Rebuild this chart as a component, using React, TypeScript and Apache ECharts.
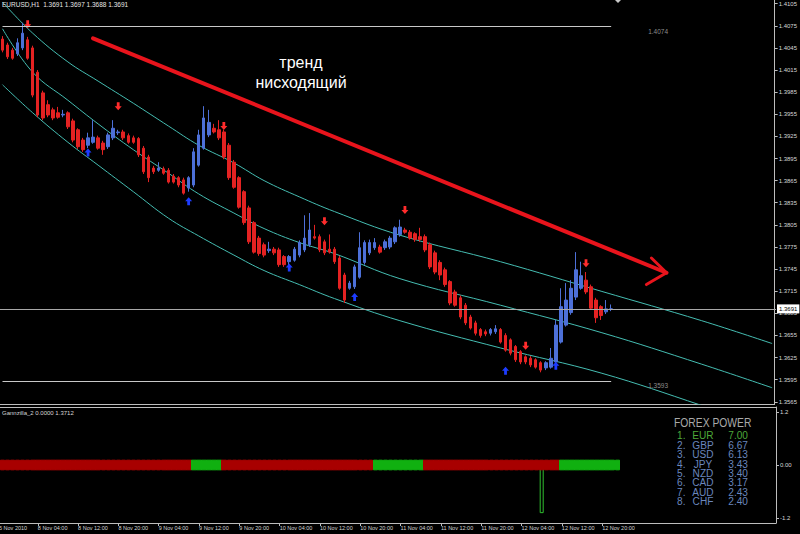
import React, { useEffect, useRef } from 'react';
import * as echarts from 'echarts';

const SYMBOL = 'EURUSD,H1';
const BAR_COUNT = 154;

// [open, close, low, high] hourly candles
const candles: number[][] = [
  [1.4057, 1.4042, 1.4039, 1.4061], [1.4049, 1.4033, 1.4030, 1.4052], [1.4042, 1.4031, 1.4029, 1.4045],
  [1.4037, 1.4052, 1.4034, 1.4058], [1.4045, 1.4065, 1.4042, 1.4079], [1.4056, 1.4031, 1.4029, 1.4060],
  [1.4045, 1.3981, 1.3978, 1.4048], [1.4012, 1.3954, 1.3951, 1.4015], [1.3984, 1.3950, 1.3947, 1.3987],
  [1.3968, 1.3954, 1.3951, 1.3974], [1.3961, 1.3950, 1.3947, 1.3964], [1.3957, 1.3951, 1.3949, 1.3965],
  [1.3954, 1.3955, 1.3951, 1.3961], [1.3957, 1.3938, 1.3935, 1.3959], [1.3946, 1.3920, 1.3917, 1.3949],
  [1.3934, 1.3911, 1.3908, 1.3936], [1.3920, 1.3907, 1.3904, 1.3923], [1.3913, 1.3923, 1.3909, 1.3930],
  [1.3917, 1.3924, 1.3915, 1.3947], [1.3923, 1.3909, 1.3907, 1.3926], [1.3916, 1.3907, 1.3900, 1.3919],
  [1.3911, 1.3927, 1.3908, 1.3930], [1.3923, 1.3936, 1.3920, 1.3947], [1.3930, 1.3931, 1.3927, 1.3934],
  [1.3931, 1.3923, 1.3920, 1.3934], [1.3926, 1.3917, 1.3915, 1.3929], [1.3923, 1.3917, 1.3915, 1.3926],
  [1.3922, 1.3900, 1.3897, 1.3924], [1.3909, 1.3877, 1.3874, 1.3912], [1.3897, 1.3869, 1.3863, 1.3900],
  [1.3882, 1.3877, 1.3874, 1.3885], [1.3879, 1.3882, 1.3877, 1.3890], [1.3881, 1.3875, 1.3873, 1.3884],
  [1.3879, 1.3863, 1.3861, 1.3882], [1.3871, 1.3863, 1.3861, 1.3874], [1.3869, 1.3859, 1.3856, 1.3871],
  [1.3866, 1.3848, 1.3846, 1.3869], [1.3855, 1.3869, 1.3850, 1.3871], [1.3859, 1.3904, 1.3856, 1.3909],
  [1.3886, 1.3927, 1.3884, 1.3934], [1.3909, 1.3950, 1.3907, 1.3966], [1.3927, 1.3944, 1.3924, 1.3961],
  [1.3936, 1.3931, 1.3929, 1.3942], [1.3934, 1.3923, 1.3920, 1.3947], [1.3931, 1.3897, 1.3894, 1.3934],
  [1.3913, 1.3869, 1.3866, 1.3916], [1.3890, 1.3856, 1.3854, 1.3893], [1.3869, 1.3829, 1.3827, 1.3871],
  [1.3850, 1.3808, 1.3805, 1.3852], [1.3828, 1.3782, 1.3779, 1.3831], [1.3808, 1.3768, 1.3766, 1.3810],
  [1.3787, 1.3766, 1.3763, 1.3790], [1.3778, 1.3764, 1.3761, 1.3781], [1.3770, 1.3772, 1.3767, 1.3782],
  [1.3772, 1.3767, 1.3764, 1.3775], [1.3771, 1.3751, 1.3748, 1.3774], [1.3762, 1.3751, 1.3748, 1.3764],
  [1.3755, 1.3762, 1.3749, 1.3764], [1.3757, 1.3772, 1.3755, 1.3775], [1.3764, 1.3781, 1.3761, 1.3784],
  [1.3771, 1.3787, 1.3768, 1.3818], [1.3778, 1.3798, 1.3775, 1.3821], [1.3789, 1.3787, 1.3785, 1.3805],
  [1.3789, 1.3771, 1.3768, 1.3792], [1.3782, 1.3767, 1.3764, 1.3785], [1.3772, 1.3768, 1.3766, 1.3792],
  [1.3772, 1.3755, 1.3752, 1.3775], [1.3760, 1.3719, 1.3717, 1.3763], [1.3737, 1.3703, 1.3699, 1.3740],
  [1.3719, 1.3726, 1.3717, 1.3729], [1.3721, 1.3748, 1.3718, 1.3751], [1.3734, 1.3774, 1.3732, 1.3795],
  [1.3754, 1.3781, 1.3751, 1.3784], [1.3767, 1.3781, 1.3764, 1.3785], [1.3774, 1.3781, 1.3771, 1.3787],
  [1.3775, 1.3768, 1.3766, 1.3778], [1.3774, 1.3782, 1.3771, 1.3785], [1.3775, 1.3787, 1.3772, 1.3790],
  [1.3782, 1.3801, 1.3779, 1.3803], [1.3792, 1.3802, 1.3789, 1.3812], [1.3798, 1.3795, 1.3793, 1.3801],
  [1.3795, 1.3787, 1.3785, 1.3798], [1.3793, 1.3785, 1.3782, 1.3795], [1.3789, 1.3785, 1.3782, 1.3801],
  [1.3789, 1.3771, 1.3768, 1.3792], [1.3778, 1.3748, 1.3745, 1.3781], [1.3767, 1.3741, 1.3738, 1.3770],
  [1.3754, 1.3737, 1.3730, 1.3757], [1.3744, 1.3724, 1.3721, 1.3747], [1.3728, 1.3699, 1.3696, 1.3730],
  [1.3714, 1.3696, 1.3694, 1.3717], [1.3706, 1.3680, 1.3677, 1.3709], [1.3696, 1.3672, 1.3669, 1.3699],
  [1.3680, 1.3665, 1.3663, 1.3683], [1.3672, 1.3658, 1.3655, 1.3675], [1.3663, 1.3655, 1.3652, 1.3665],
  [1.3660, 1.3657, 1.3654, 1.3663], [1.3658, 1.3663, 1.3655, 1.3665], [1.3660, 1.3664, 1.3657, 1.3669],
  [1.3663, 1.3646, 1.3644, 1.3665], [1.3655, 1.3635, 1.3633, 1.3658], [1.3649, 1.3631, 1.3628, 1.3651],
  [1.3640, 1.3622, 1.3619, 1.3642], [1.3633, 1.3619, 1.3616, 1.3635], [1.3626, 1.3619, 1.3616, 1.3628],
  [1.3624, 1.3615, 1.3612, 1.3627], [1.3622, 1.3612, 1.3610, 1.3624], [1.3618, 1.3608, 1.3605, 1.3620],
  [1.3611, 1.3618, 1.3608, 1.3620], [1.3612, 1.3624, 1.3610, 1.3638], [1.3619, 1.3669, 1.3616, 1.3676],
  [1.3646, 1.3694, 1.3644, 1.3719], [1.3669, 1.3703, 1.3667, 1.3726], [1.3686, 1.3719, 1.3683, 1.3730],
  [1.3707, 1.3744, 1.3703, 1.3768], [1.3719, 1.3736, 1.3717, 1.3755], [1.3730, 1.3714, 1.3711, 1.3741],
  [1.3721, 1.3692, 1.3690, 1.3724], [1.3703, 1.3679, 1.3672, 1.3706], [1.3694, 1.3682, 1.3676, 1.3696],
  [1.3687, 1.3691, 1.3684, 1.3703], [1.3691, 1.3691, 1.3688, 1.3697],
];

// channel curves: [bar index, price]
const upperChannel = [[0, 1.4107], [6, 1.4065], [13, 1.4026], [19, 1.4000], [26, 1.3970], [33, 1.3939], [39, 1.3913], [46, 1.3889], [52, 1.3865], [59, 1.3843], [66, 1.3823], [79, 1.3791], [99, 1.3755], [119, 1.3715], [139, 1.3675], [153, 1.3644]];
const middleChannel = [[0, 1.4071], [6, 1.4012], [13, 1.3974], [19, 1.3942], [26, 1.3907], [33, 1.3875], [39, 1.3847], [46, 1.3821], [52, 1.3800], [59, 1.3781], [66, 1.3766], [79, 1.3732], [99, 1.3696], [119, 1.3659], [139, 1.3616], [153, 1.3584]];
const lowerChannel = [[0, 1.3995], [6, 1.3957], [13, 1.3917], [19, 1.3886], [26, 1.3850], [33, 1.3814], [39, 1.3790], [46, 1.3764], [52, 1.3743], [59, 1.3724], [66, 1.3705], [79, 1.3675], [99, 1.3638], [119, 1.3604], [139, 1.3560], [153, 1.3527]];

const downSignals = [[5, 1.4077], [23, 1.3966], [44, 1.3939], [64, 1.3810], [80, 1.3825], [104, 1.3641], [116, 1.3753]];
const upSignals = [[17, 1.3903], [37, 1.3837], [57, 1.3747], [70, 1.3707], [100, 1.3607], [110, 1.3614]];

const trendLine = [[18, 1.4058], [132, 1.3740]];
const trendHead = [[129, 1.3760], [132, 1.3740], [128, 1.3724]];
const trendText = 'тренд\nнисходящий';

const levelHigh = 1.4074;
const levelLow = 1.3593;
const levelEnd = 121;

const priceTicks = [1.4105, 1.4075, 1.4045, 1.4015, 1.3985, 1.3955, 1.3925, 1.3895, 1.3865, 1.3835, 1.3805, 1.3775, 1.3745, 1.3715, 1.3685, 1.3655, 1.3625, 1.3595, 1.3565];
const indicatorTicks = [1.2, 0, -1.2];

const timeLabels = ['8 Nov 04:00', '8 Nov 12:00', '8 Nov 20:00', '9 Nov 04:00', '9 Nov 12:00', '9 Nov 20:00', '10 Nov 04:00', '10 Nov 12:00', '10 Nov 20:00', '11 Nov 04:00', '11 Nov 12:00', '11 Nov 20:00', '12 Nov 04:00', '12 Nov 12:00', '12 Nov 20:00'];
const firstLabelBar = 7;
const labelStep = 8;
const startDateLabel = '5 Nov 2010';

// indicator strip segments (Gannzilla_2)
const trendSegments = [
  { from: 0, to: 37, up: false },
  { from: 38, to: 43, up: true },
  { from: 44, to: 73, up: false },
  { from: 74, to: 83, up: true },
  { from: 84, to: 110, up: false },
  { from: 111, to: 122, up: true },
];
const stripHalf = 0.11;
const signalBars = [[107, -1.09]];
const indicatorName = 'Gannzilla_2 0.0000 1.3712';

const currencies = ['EUR', 'GBP', 'USD', 'JPY', 'NZD', 'CAD', 'AUD', 'CHF'];
const powerValues = [7.0, 6.67, 6.13, 3.43, 3.4, 3.17, 2.43, 2.4];

const FONT = '"Liberation Sans", Arial, sans-serif';
const BULL = '#4d70d8';
const BEAR = '#e42222';
const CHANNEL = '#45bdb2';
const AXIS = '#bdbdbd';

export default function App() {
  const ref = useRef<HTMLDivElement>(null);

  useEffect(() => {
    document.body.style.margin = '0';
    const chart = echarts.init(ref.current!, null, { renderer: 'svg' });

    const cats = Array.from({ length: BAR_COUNT }, (_, i) => String(i));
    const labelAt = (idx: number) => {
      if (idx < firstLabelBar) return '';
      const k = (idx - firstLabelBar) / labelStep;
      return Number.isInteger(k) && k < timeLabels.length ? timeLabels[k] : '';
    };
    const showLabel = (idx: number) => labelAt(idx) !== '';

    const last = candles[candles.length - 1];
    const lastClose = last[1];
    const title = `${SYMBOL}  ${last[0].toFixed(4)} ${last[3].toFixed(4)} ${last[2].toFixed(4)} ${last[1].toFixed(4)}`;

    const stripIndexed: any[] = Array.from({ length: BAR_COUNT }, () => '-');
    trendSegments.forEach((s) => {
      for (let i = s.from; i <= s.to; i++) {
        const c = s.up ? '#10b010' : '#a80000';
        stripIndexed[i] = { value: [-stripHalf, stripHalf, -stripHalf, stripHalf], itemStyle: { color: c, borderColor: c, color0: c, borderColor0: c } };
      }
    });

    const levelLine = (v: number) => [
      {
        coord: [0, v],
        lineStyle: { color: '#c8c8c8', width: 1, type: 'solid' },
        label: { show: true, position: 'end', formatter: `\n${v.toFixed(4)}`, lineHeight: 9, color: '#8c8c8c', fontSize: 6.5, distance: 37 },
      },
      { coord: [levelEnd, v] },
    ];

    const rowY = (i: number) => 435 + i * 9.43;
    const powerGraphics: any[] = [
      { type: 'text', x: 674, y: 423, scaleX: 0.86, style: { text: 'FOREX POWER', fill: '#a9a9a9', fontSize: 12, fontFamily: FONT, textAlign: 'left', textVerticalAlign: 'middle' } },
    ];
    currencies.forEach((c, i) => {
      const fill = i === 0 ? '#4da83a' : '#6a86bd';
      const base = { fontSize: 11.5, fontFamily: FONT, fill, textVerticalAlign: 'middle' };
      powerGraphics.push({ type: 'text', x: 677, y: rowY(i), scaleX: 0.88, style: { ...base, text: `${i + 1}.`, textAlign: 'left' } });
      powerGraphics.push({ type: 'text', x: 703, y: rowY(i), scaleX: 0.88, style: { ...base, text: c, textAlign: 'center' } });
      powerGraphics.push({ type: 'text', x: 748, y: rowY(i), scaleX: 0.88, style: { ...base, text: powerValues[i].toFixed(2), textAlign: 'right' } });
    });

    const option: any = {
      animation: false,
      backgroundColor: '#000',
      textStyle: { fontFamily: FONT },
      title: [
        { text: title, left: 2, top: 1, padding: 0, textStyle: { color: '#e6e6e6', fontSize: 6.5, fontWeight: 'normal' } },
        { text: indicatorName, left: 2, top: 410, padding: 0, textStyle: { color: '#d6d6d6', fontSize: 6, fontWeight: 'normal' } },
      ],
      grid: [
        { left: 0, top: 0, width: 776, height: 404 },
        { left: 0, top: 407, width: 776, height: 116 },
      ],
      xAxis: [
        {
          type: 'category', gridIndex: 0, data: cats, boundaryGap: true, position: 'bottom',
          axisLine: { show: true, onZero: false, lineStyle: { color: AXIS, width: 1 } },
          axisTick: { show: false }, axisLabel: { show: false }, splitLine: { show: false },
        },
        {
          type: 'category', gridIndex: 1, data: cats, boundaryGap: true, position: 'bottom',
          axisLine: { show: true, onZero: false, lineStyle: { color: AXIS, width: 1 } },
          axisTick: { show: true, alignWithLabel: true, length: 3, interval: (i: number) => showLabel(i), lineStyle: { color: AXIS } },
          axisLabel: {
            show: true, interval: (i: number) => showLabel(i), formatter: (_v: string, i: number) => labelAt(i),
            align: 'left', color: '#d6d6d6', fontSize: 5.5, margin: 2,
          },
          splitLine: { show: false },
        },
        {
          type: 'category', gridIndex: 1, data: cats, position: 'top',
          axisLine: { show: true, onZero: false, lineStyle: { color: AXIS, width: 1 } },
          axisTick: { show: false }, axisLabel: { show: false }, splitLine: { show: false },
        },
      ],
      yAxis: [
        {
          type: 'value', gridIndex: 0, position: 'right', min: 1.3562, max: 1.411,
          axisLine: { show: true, onZero: false, lineStyle: { color: AXIS } },
          axisTick: { show: true, length: 3, customValues: priceTicks, lineStyle: { color: AXIS } },
          axisLabel: { show: true, customValues: priceTicks, formatter: (v: number) => v.toFixed(4), color: '#d6d6d6', fontSize: 6, margin: 4 },
          splitLine: { show: false },
        },
        {
          type: 'value', gridIndex: 1, position: 'right', min: -1.313, max: 1.313,
          axisLine: { show: true, onZero: false, lineStyle: { color: AXIS } },
          axisTick: { show: true, length: 3, customValues: indicatorTicks, lineStyle: { color: AXIS } },
          axisLabel: { show: true, customValues: indicatorTicks, formatter: (v: number) => (v === 0 ? '0.00' : v.toFixed(1)), color: '#d6d6d6', fontSize: 6, margin: 4 },
          splitLine: { show: false },
        },
      ],
      series: [
        {
          type: 'line', name: 'upper', xAxisIndex: 0, yAxisIndex: 0, data: upperChannel, smooth: 0.4, symbol: 'none',
          lineStyle: { color: CHANNEL, width: 1 }, z: 2,
        },
        {
          type: 'line', name: 'middle', xAxisIndex: 0, yAxisIndex: 0, data: middleChannel, smooth: 0.4, symbol: 'none',
          lineStyle: { color: CHANNEL, width: 1 }, z: 2,
          markLine: {
            silent: true, symbol: ['none', 'none'], animation: false, precision: 4,
            data: [
              [
                { coord: [0, lastClose], x: 0, lineStyle: { color: '#a8a8a8', width: 1, type: 'solid' },
                  label: { show: true, position: 'end', formatter: lastClose.toFixed(4), backgroundColor: '#ffffff', color: '#000', fontSize: 6, padding: [2, 2, 1, 2], distance: 1 } },
                { coord: [BAR_COUNT - 1, lastClose], x: 776 },
              ],
              levelLine(levelHigh),
              levelLine(levelLow),
            ],
          },
        },
        {
          type: 'line', name: 'lower', xAxisIndex: 0, yAxisIndex: 0, data: lowerChannel, smooth: 0.4, symbol: 'none',
          lineStyle: { color: CHANNEL, width: 1 }, z: 2,
        },
        {
          type: 'candlestick', name: SYMBOL, xAxisIndex: 0, yAxisIndex: 0, data: candles, barWidth: 3, z: 3,
          itemStyle: { color: BULL, color0: BEAR, borderColor: BULL, borderColor0: BEAR, borderWidth: 1 },
        },
        {
          type: 'scatter', name: 'sell', xAxisIndex: 0, yAxisIndex: 0, data: downSignals, z: 4,
          symbol: 'path://M3,0 L7,0 L7,5 L10,5 L5,10 L0,5 L3,5 Z', symbolSize: [7, 8],
          itemStyle: { color: '#ff2c2c', opacity: 1 },
        },
        {
          type: 'scatter', name: 'buy', xAxisIndex: 0, yAxisIndex: 0, data: upSignals, z: 4,
          symbol: 'path://M5,0 L10,5 L7,5 L7,10 L3,10 L3,5 L0,5 Z', symbolSize: [7, 8],
          itemStyle: { color: '#1d3cff', opacity: 1 },
        },
        {
          type: 'line', name: 'trend', xAxisIndex: 0, yAxisIndex: 0, data: trendLine, symbol: 'none', z: 5,
          lineStyle: { color: '#e8141c', width: 4, cap: 'round' },
        },
        {
          type: 'line', name: 'trendHead', xAxisIndex: 0, yAxisIndex: 0, data: trendHead, symbol: 'none', z: 5,
          lineStyle: { color: '#e8141c', width: 3, cap: 'round', join: 'round' },
        },
        {
          type: 'bar', name: 'signal', xAxisIndex: 1, yAxisIndex: 1, data: signalBars, barWidth: 4, z: 2,
          itemStyle: { color: 'rgba(0,0,0,0)', borderColor: '#2fc02f', borderWidth: 1 },
        },
        {
          type: 'candlestick', name: 'strip', xAxisIndex: 1, yAxisIndex: 1, data: stripIndexed, barWidth: '100%', z: 3,
        },
      ],
      graphic: [
        {
          type: 'text', x: 301, y: 72,
          style: { text: trendText, fill: '#ffffff', fontSize: 16, lineHeight: 20, fontFamily: FONT, textAlign: 'center', textVerticalAlign: 'middle' },
        },
        {
          type: 'text', x: -1, y: 528,
          style: { text: startDateLabel, fill: '#d6d6d6', fontSize: 5.5, fontFamily: FONT, textAlign: 'left', textVerticalAlign: 'middle' },
        },
        { type: 'polygon', shape: { points: [[615, 0], [621, 0], [618, 3]] }, style: { fill: '#c8c8c8' } },
        ...powerGraphics,
      ],
    };

    chart.setOption(option);
    return () => chart.dispose();
  }, []);

  return <div ref={ref} style={{ position: 'fixed', left: 0, top: 0, width: 800, height: 534, background: '#000' }} />;
}
